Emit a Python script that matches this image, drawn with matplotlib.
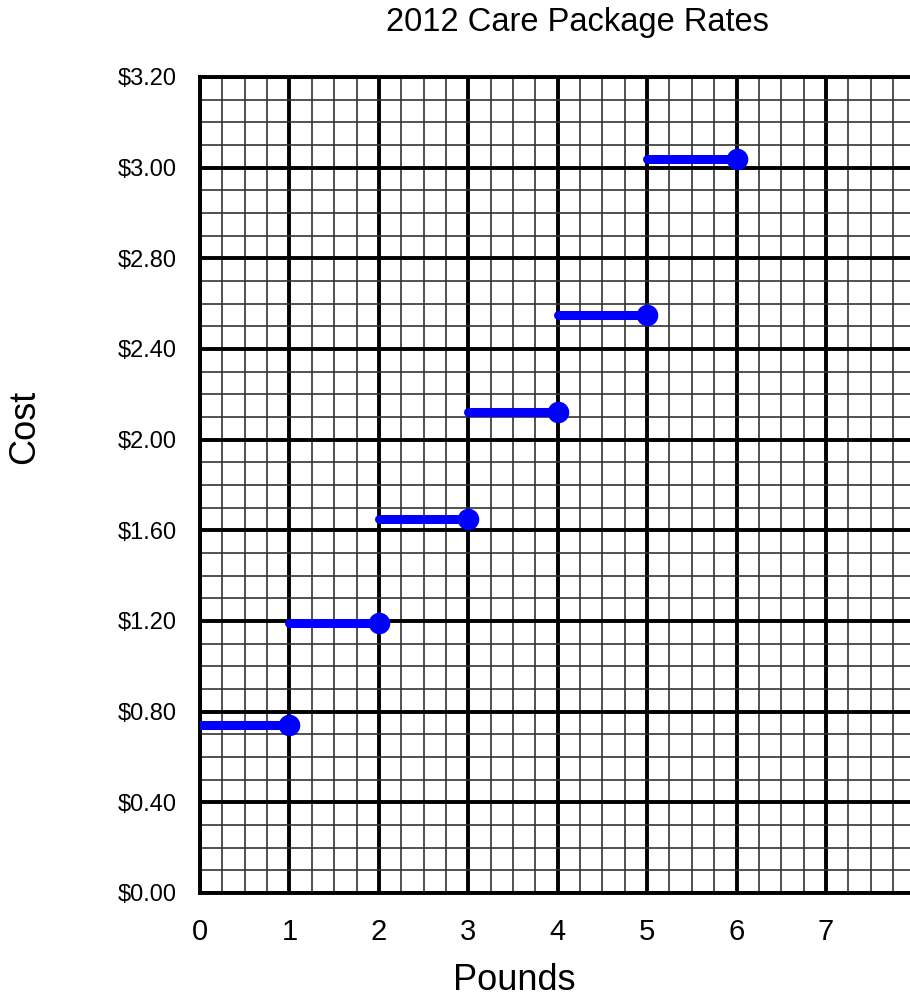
import numpy as np
import matplotlib.pyplot as plt

plt.rcParams['font.family'] = ['Liberation Sans', 'DejaVu Sans']

# rate steps: weight interval [start, end] and cost
step_start = [0, 1, 2, 3, 4, 5]
step_end = [1, 2, 3, 4, 5, 6]
step_cost = [0.74, 1.19, 1.65, 2.12, 2.55, 3.24]

# axis labelling as drawn (last labels do not follow the 0.40 spacing)
y_tick_pos = [0.0, 0.4, 0.8, 1.2, 1.6, 2.0, 2.4, 2.8, 3.2, 3.6]
y_tick_labels = ["$0.00", "$0.40", "$0.80", "$1.20", "$1.60", "$2.00",
                 "$2.40", "$2.80", "$3.00", "$3.20"]
x_ticks = [0, 1, 2, 3, 4, 5, 6, 7]

fig = plt.figure(figsize=(9.1, 10.02), dpi=100)
ax = fig.add_axes([0.2198, 0.1088, 0.7802, 0.8144])

x_max = 7.94
y_max = 3.6
ax.set_xlim(0, x_max)
ax.set_ylim(0, y_max)

# graph paper grid: 4 minor cells per major cell
for xv in np.arange(0, 8.01, 0.25):
    major = abs(xv - round(xv)) < 1e-6
    ax.axvline(xv, color='black' if major else '#333333',
               lw=2.8 if major else 1.2, zorder=1)
for yv in np.arange(0, y_max + 0.001, 0.1):
    major = abs(yv / 0.4 - round(yv / 0.4)) < 1e-6
    ax.axhline(yv, color='black' if major else '#333333',
               lw=2.8 if major else 1.2, zorder=1)

for s, e, c in zip(step_start, step_end, step_cost):
    ax.plot([s, e], [c, c], color='#0000ff', lw=6.5, solid_capstyle='round', zorder=3)
    ax.plot([e], [c], 'o', color='#0000ff', ms=14.5, zorder=4)

ax.set_xticks(x_ticks)
ax.set_xticklabels([str(v) for v in x_ticks], fontsize=21)
ax.set_yticks(y_tick_pos)
ax.set_yticklabels(y_tick_labels, fontsize=17)
ax.tick_params(axis='both', length=0)
ax.tick_params(axis='x', pad=18)
ax.tick_params(axis='y', pad=17)

for sp in ax.spines.values():
    sp.set_visible(False)
for side in ['left', 'bottom', 'top']:
    ax.spines[side].set_visible(True)
    ax.spines[side].set_linewidth(2.8)

ax.set_xlabel("Pounds", fontsize=26)
ax.xaxis.set_label_coords(0.442, -0.086)
ax.set_ylabel("Cost", fontsize=26)
ax.yaxis.set_label_coords(-0.222, 0.571)
fig.text(0.634, 0.978, "2012 Care Package Rates", fontsize=23.5, ha='center', va='center')

fig.savefig("out.png", dpi=100)
